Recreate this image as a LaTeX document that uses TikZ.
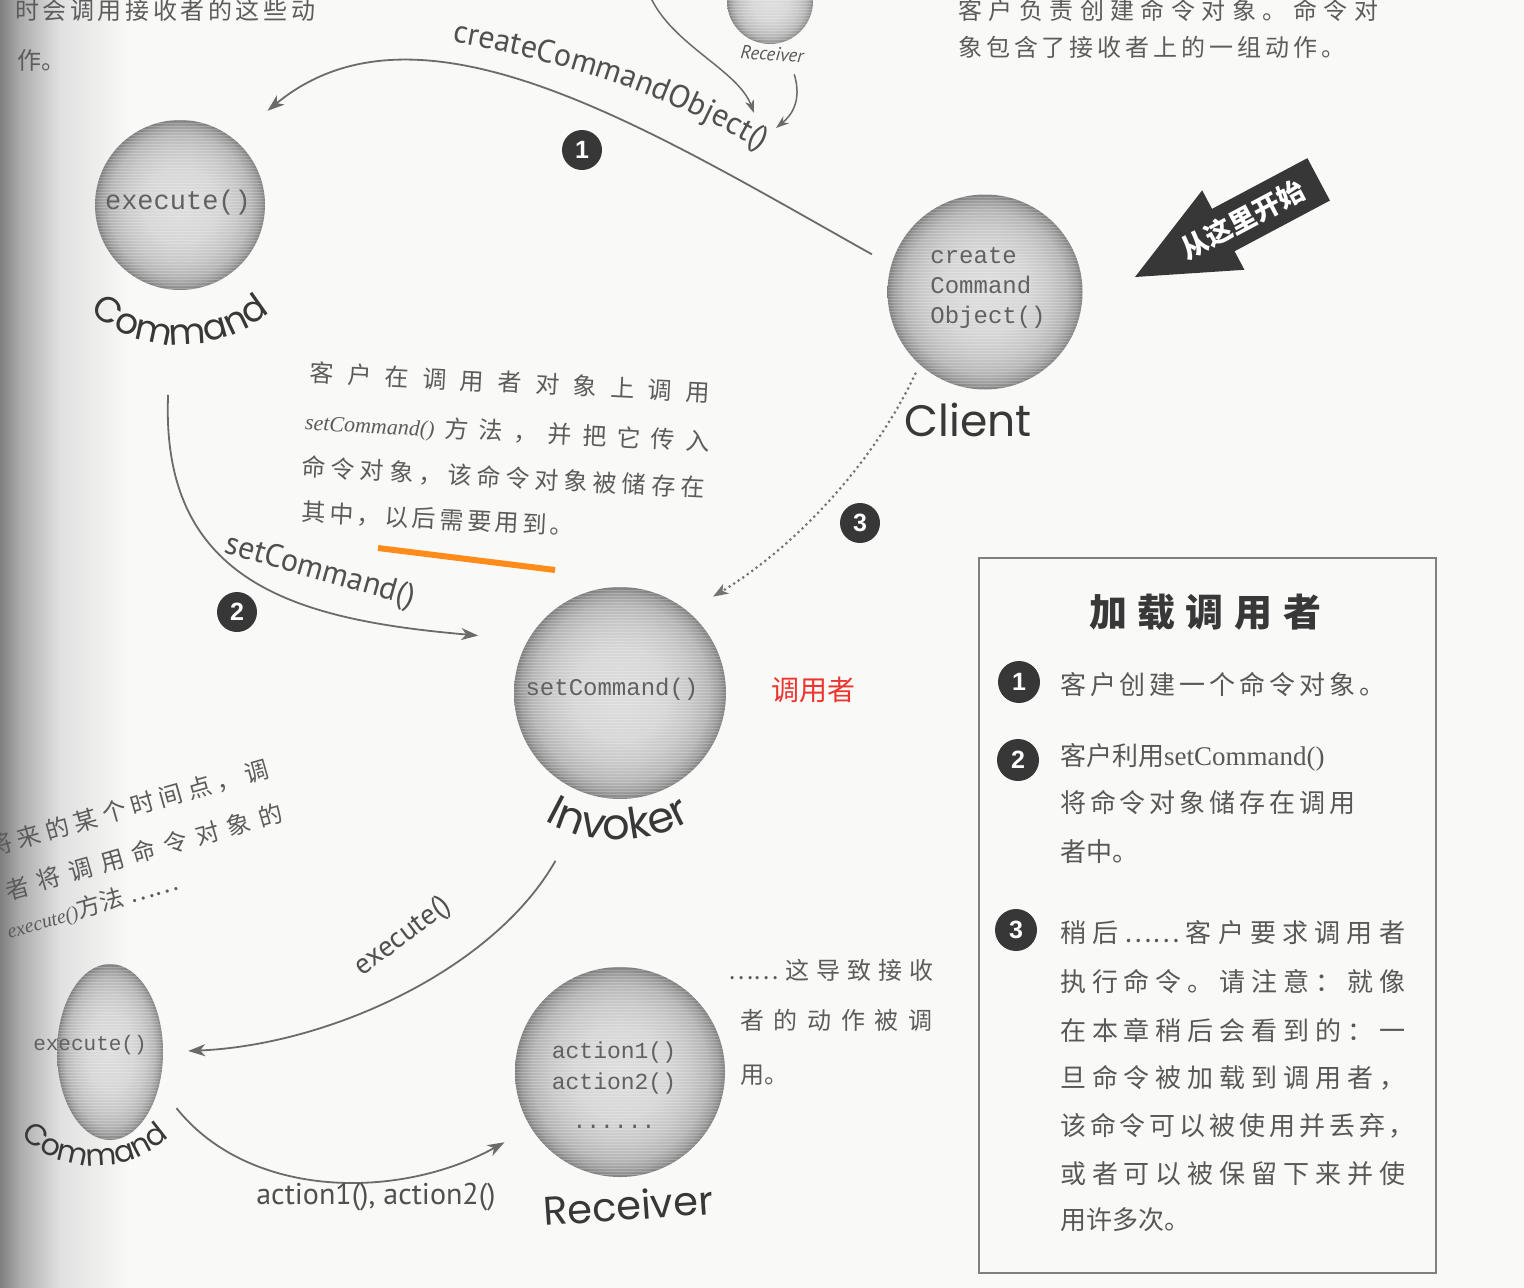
\documentclass[tikz,border=0pt]{standalone}
\usepackage{fontspec}
\usetikzlibrary{arrows.meta,decorations.text,shapes.geometric}
\setmainfont{Liberation Serif}
\newfontfamily\cjk{Noto Sans CJK SC}
\newfontfamily\lblfont{PT Sans}
\newfontfamily\namefont{Poppins}
\newfontfamily\codefont{Liberation Mono}
\newfontfamily\numfont{Liberation Sans}

% stretch a line of separated glyphs to a given width
\newcommand{\spreadline}[2]{\makebox[#1][s]{#2}}

\definecolor{pagebg}{RGB}{249,249,247}
\definecolor{inkgray}{RGB}{80,80,80}
\definecolor{handgray}{RGB}{92,92,92}
\definecolor{boxgray}{RGB}{88,88,88}
\definecolor{badgegray}{RGB}{55,55,55}
\definecolor{notered}{RGB}{238,52,46}
\definecolor{marker}{RGB}{255,140,26}

% the node outline sits at 25bp of a radial shading
\pgfdeclareradialshading{orb}{\pgfpoint{0bp}{0bp}}{color(0bp)=(black!13); color(11bp)=(black!16); color(17bp)=(black!22); color(21bp)=(black!29); color(23.5bp)=(black!39); color(25bp)=(black!50); color(50bp)=(black!50)}
\pgfdeclarehorizontalshading{fold}{100bp}{color(0bp)=(black!50); color(25bp)=(black!50); color(33bp)=(black!32); color(48bp)=(black!12); color(75bp)=(pagebg); color(100bp)=(pagebg)}

\tikzset{
  orb/.style={circle, inner sep=0pt, shading=orb,
    path picture={\foreach \k in {0,3,...,240}{\draw[white,opacity=.22,line width=.9pt]
      ([yshift=-\k pt]path picture bounding box.north west) --
      ([yshift=-\k pt]path picture bounding box.north east);}}},
  code/.style={inner sep=0pt, text=black!62, align=center},
  flow/.style={draw=black!58, line width=1.8pt, -{Stealth[length=17pt,width=12pt,inset=5pt]}},
  thinflow/.style={draw=black!58, line width=1.5pt, -{Stealth[length=13pt,width=9pt,inset=4pt]}},
  dotflow/.style={draw=black!55, line width=3pt, line cap=round, dash pattern=on 0pt off 5.5pt,
    -{Stealth[length=15pt,width=11pt,inset=4pt]}},
  badge/.style={circle, fill=badgegray, minimum size=40pt, inner sep=0pt, text=white,
    font=\numfont\bfseries\fontsize{25}{25}\selectfont},
  hand/.style={font=\cjk\fontsize{24}{24}\selectfont, text=handgray, inner sep=0pt},
  boxtxt/.style={font=\cjk\fontsize{26}{26}\selectfont, text=boxgray, inner sep=0pt, anchor=west},
  lbl/.style={font=\lblfont\fontsize{30}{30}\selectfont, text=inkgray, inner sep=0pt},
  objname/.style={font=\namefont\fontsize{40}{40}\selectfont, text=black!78, inner sep=0pt},
}

\begin{document}
\begin{tikzpicture}[x=1pt,y=1pt]
\useasboundingbox (0,0) rectangle (1524,-1288);
\clip (0,0) rectangle (1524,-1288);
\fill[pagebg] (0,0) rectangle (1524,-1288);
\fill[shading=fold] (0,0) rectangle (130,-1288);

% ---------- spheres ----------
\node[orb, minimum size=86pt] (rcvTop) at (770,-1) {};
\node[orb, minimum size=170pt] (cmdA) at (180,-205) {};
\node[orb, minimum size=195pt] (client) at (985,-292) {};
\node[orb, minimum size=212pt] (invoker) at (620,-693) {};
\node[orb, minimum size=210pt] (receiver) at (620,-1072) {};
\node[orb, ellipse, minimum width=106pt, minimum height=176pt] (cmdB) at (110,-1052) {};

\node[code, font=\codefont\fontsize{27}{30}\selectfont] (cmdAtxt) at (178,-203) {execute()};
\node[code, font=\codefont\fontsize{24}{30}\selectfont, align=left] (clientTxt) at (988,-288) {create\\Command\\Object()};
\node[code, font=\codefont\fontsize{24}{30}\selectfont] (invokerTxt) at (612,-689) {setCommand()};
\node[code, font=\codefont\fontsize{23}{31}\selectfont] (receiverTxt) at (614,-1085) {action1()\\action2()\\[8pt]......};
\node[code, font=\codefont\fontsize{21}{24}\selectfont] (cmdBtxt) at (90,-1045) {execute()};

% ---------- object names ----------
\path[decorate, decoration={text along path, text align=center,
  text={|\namefont\fontsize{36}{36}\selectfont\color{black!78}|Command}}]
  (180,-205) ++(222:140) arc (222:318:140);
\node[objname, font=\namefont\fontsize{44}{44}\selectfont] (clientLbl) at (968,-420) {Client};
\path[decorate, decoration={text along path, text align=center,
  text={|\namefont\fontsize{43}{43}\selectfont\color{black!78}|Invoker}}]
  (618,-690) ++(230:150) arc (230:310:150);
\node[objname, rotate=4] (rcvLbl) at (628,-1205) {Receiver};
\path[decorate, decoration={text along path, text align=center,
  text={|\namefont\fontsize{30}{30}\selectfont\color{black!78}|Command}}]
  (95,-1058) ++(205:108) arc (205:335:108);
\node[font=\lblfont\itshape\fontsize{19}{19}\selectfont, text=black!65, rotate=-4] (rcvTopLbl) at (772,-54) {Receiver};

% ---------- connectors ----------
\path[decorate, decoration={text along path, text align=left,
  text={|\lblfont\fontsize{32}{32}\selectfont\color{inkgray}|createCommandObject()}}]
  (452,-42) .. controls (570,-62) and (690,-100) .. (795,-172);
\draw[flow, shorten <=22pt, shorten >=44pt] (client.164) .. controls (650,-130) and (420,15) .. (cmdA.51);
\coordinate (upSrc) at (650,4);
\coordinate (coTipA) at (754,-113);
\coordinate (coTipB) at (776,-128);
\draw[thinflow] (upSrc) .. controls (672,-45) and (738,-70) .. (coTipA);
\draw[thinflow] ([shift={(23,-10)}]rcvTopLbl.south) .. controls (802,-100) and (792,-115) .. (coTipB);

\draw[flow, shorten <=105pt, shorten >=50pt] (cmdA.265) .. controls (160,-585) and (300,-620) .. (invoker.150);
\node[lbl, rotate=-16, font=\lblfont\fontsize{32}{32}\selectfont] (setLbl) at (320,-572) {setCommand()};

\draw[dotflow, shorten <=10pt, shorten >=29pt] (client.228) .. controls (870,-470) and (790,-550) .. (invoker.50);

\draw[flow, shorten <=75pt, shorten >=25pt] (invoker.255) .. controls (494,-969) and (330,-1045) .. (cmdB.east);
\node[lbl, rotate=37, font=\lblfont\fontsize{29}{29}\selectfont] (execLbl) at (403,-937) {execute()};

\draw[flow, shorten <=28pt, shorten >=30pt] (cmdB.-35) .. controls (250,-1200) and (400,-1200) .. (receiver.212);
\node[lbl, font=\lblfont\fontsize{30}{30}\selectfont] (actLbl) at (376,-1197) {action1(), action2()};

% ---------- step badges ----------
\node[badge] (s1) at (582,-150) {1};
\node[badge] (s2) at (237,-612) {2};
\node[badge] (s3) at (860,-523) {3};

% ---------- start-here arrow ----------
\begin{scope}[shift={(1135,-277)}, rotate=28]
  \fill[badgegray] (0,0) -- (100,45) -- (100,24) -- (208,24) -- (208,-24) -- (100,-24) -- (100,-45) -- cycle;
  \node[transform shape, font=\cjk\bfseries\fontsize{27}{27}\selectfont, text=white] (startHere) at (122,0) {从这里开始};
\end{scope}

% ---------- handwritten notes ----------
\node[hand, anchor=west] (noteTL1) at (15,-10) {\spreadline{280pt}{时 会 调 用 接 收 者 的 这 些 动}};
\node[hand, anchor=west] (noteTL2) at (17,-60) {作。};
\node[hand, anchor=west] (noteTR1) at (958,-10) {\spreadline{420pt}{客 户 负 责 创 建 命 令 对 象 。 命 令 对}};
\node[hand, anchor=west] (noteTR2) at (958,-47) {\spreadline{387pt}{象 包 含 了 接 收 者 上 的 一 组 动 作 。}};

\node[hand, anchor=west, rotate=-3] (noteM1) at (310,-372) {\spreadline{400pt}{客 户 在 调 用 者 对 象 上 调 用}};
\node[hand, anchor=west, rotate=-3] (noteM2) at (305,-422) {\spreadline{405pt}{{\rmfamily\itshape\fontsize{22}{22}\selectfont setCommand()} 方 法 ， 并 把 它 传 入}};
\node[hand, anchor=west, rotate=-3] (noteM3) at (302,-467) {\spreadline{403pt}{命 令 对 象 ， 该 命 令 对 象 被 储 存 在}};
\node[hand, anchor=west, rotate=-3] (noteM4) at (302,-512) {\spreadline{268pt}{其 中 ， 以 后 需 要 用 到 。}};
\draw[marker, line width=6pt] (378,-548) -- (555,-570);

\node[hand, anchor=east, rotate=16] (noteBL1) at (268,-768) {\spreadline{290pt}{将 来 的 某 个 时 间 点 ， 调}};
\node[hand, anchor=east, rotate=16] (noteBL2) at (282,-812) {\spreadline{320pt}{用 者 将 调 用 命 令 对 象 的}};
\node[hand, anchor=east, rotate=16] (noteBL3) at (178,-882) {{\rmfamily\itshape\fontsize{20}{20}\selectfont execute()}方法 ……};

\node[hand, anchor=west] (noteR1) at (728,-970) {\spreadline{205pt}{…… 这 导 致 接 收}};
\node[hand, anchor=west] (noteR2) at (740,-1020) {\spreadline{192pt}{者 的 动 作 被 调}};
\node[hand, anchor=west] (noteR3) at (740,-1075) {用。};

\node[font=\cjk\fontsize{28}{28}\selectfont, text=notered] (redTag) at (813,-690) {调用者};

% ---------- summary panel ----------
\node[draw=black!50, line width=2pt, minimum width=457pt, minimum height=715pt, inner sep=0pt, anchor=north west] (panel) at (978,-557) {};
\node[font=\cjk\bfseries\fontsize{38}{38}\selectfont, text=black!78] (panelTitle) at (1205,-612) {\spreadline{232pt}{加 载 调 用 者}};

\node[badge, minimum size=42pt] (p1) at (1019,-682) {1};
\node[boxtxt] (p1a) at (1060,-685) {\spreadline{310pt}{客 户 创 建 一 个 命 令 对 象 。}};

\node[badge, minimum size=42pt] (p2) at (1018,-760) {2};
\node[boxtxt] (p2a) at (1060,-757) {客户利用{\rmfamily\fontsize{27}{27}\selectfont setCommand()}};
\node[boxtxt] (p2b) at (1060,-803) {\spreadline{290pt}{将 命 令 对 象 储 存 在 调 用}};
\node[boxtxt] (p2c) at (1060,-852) {者中。};

\node[badge, minimum size=42pt] (p3) at (1016,-930) {3};
\node[boxtxt] (p3a) at (1060,-933) {\spreadline{345pt}{稍 后 …… 客 户 要 求 调 用 者}};
\node[boxtxt] (p3b) at (1060,-982) {\spreadline{345pt}{执 行 命 令 。 请 注 意 ： 就 像}};
\node[boxtxt] (p3c) at (1060,-1030) {\spreadline{345pt}{在 本 章 稍 后 会 看 到 的 ： 一}};
\node[boxtxt] (p3d) at (1060,-1078) {\spreadline{345pt}{旦 命 令 被 加 载 到 调 用 者 ，}};
\node[boxtxt] (p3e) at (1060,-1126) {\spreadline{345pt}{该 命 令 可 以 被 使 用 并 丢 弃 ，}};
\node[boxtxt] (p3f) at (1060,-1174) {\spreadline{345pt}{或 者 可 以 被 保 留 下 来 并 使}};
\node[boxtxt] (p3g) at (1060,-1220) {用许多次。};
\end{tikzpicture}
\end{document}
